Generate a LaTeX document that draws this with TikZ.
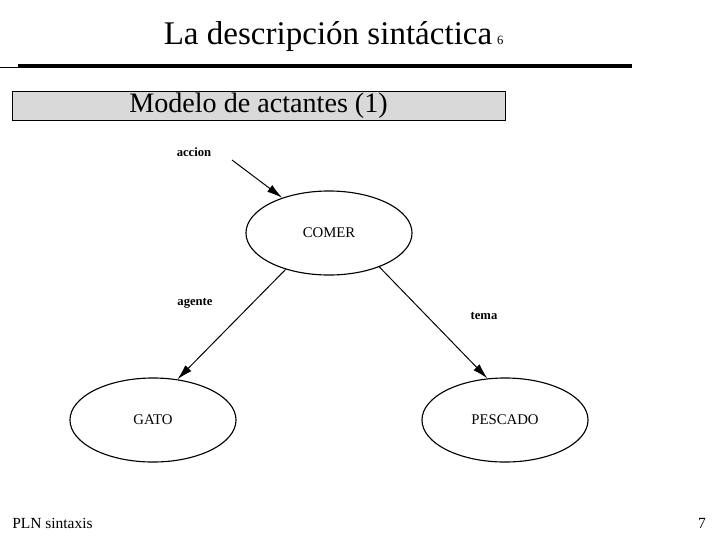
\documentclass[tikz,border=0pt]{standalone}
\usepackage{fontspec}
\setmainfont{Liberation Serif}
\usetikzlibrary{arrows.meta, positioning, shapes.geometric}

\begin{document}
\begin{tikzpicture}[
    x=0.025cm, y=-0.025cm,
    concepto/.style={ellipse, draw, line width=0.8pt, minimum width=4.15cm, minimum height=2.1cm, inner sep=0pt, font=\fontsize{10.5}{12}\selectfont},
    rol/.style={font=\fontsize{9}{10}\selectfont\bfseries},
    flecha/.style={-{Latex[length=11pt, width=6pt]}, line width=0.7pt}
  ]
  \useasboundingbox (0,0) rectangle (720,540);

  % Cabecera
  \node[anchor=base, inner sep=0pt, font=\fontsize{23.5}{27}\selectfont] (titulo) at (328,44) {La descripción sintáctica};
  \node[anchor=base west, inner sep=0pt, font=\fontsize{9}{10}\selectfont] (pagina) at ([xshift=3pt]titulo.base east) {6};
  \draw[line width=3.5pt] (18,66) -- (632,66);
  \draw[line width=1pt] (0,67.5) -- (18,67.5);

  % Recuadro
  \node[draw, fill=black!15, minimum width=12.325cm, minimum height=0.725cm, inner sep=0pt, font=\fontsize{20}{22}\selectfont] (modelo) at (258.5,105.5) {Modelo de actantes (1)};

  % Nodos
  \node[concepto] (comer) at (329,233) {COMER};
  \node[concepto] (gato) at (153,420) {GATO};
  \node[concepto] (pescado) at (505,420) {PESCADO};

  % Roles
  \node[rol] (accion) at (194,152) {accion};
  \node[rol] (agente) at (195,303) {agente};
  \node[rol] (tema) at (484,316) {tema};
  \coordinate (inicio) at (232,160);

  \draw[flecha] (inicio) -- (comer);
  \draw[flecha] (comer.220) -- (gato.59);
  \draw[flecha] (comer.326) -- (pescado.113);

  % Pie
  \node[anchor=base west, inner sep=0pt, font=\fontsize{11}{12}\selectfont] (pie) at (12,528) {PLN sintaxis};
  \node[anchor=base east, inner sep=0pt, font=\fontsize{11}{12}\selectfont] (numero) at (706,528) {7};
\end{tikzpicture}
\end{document}
